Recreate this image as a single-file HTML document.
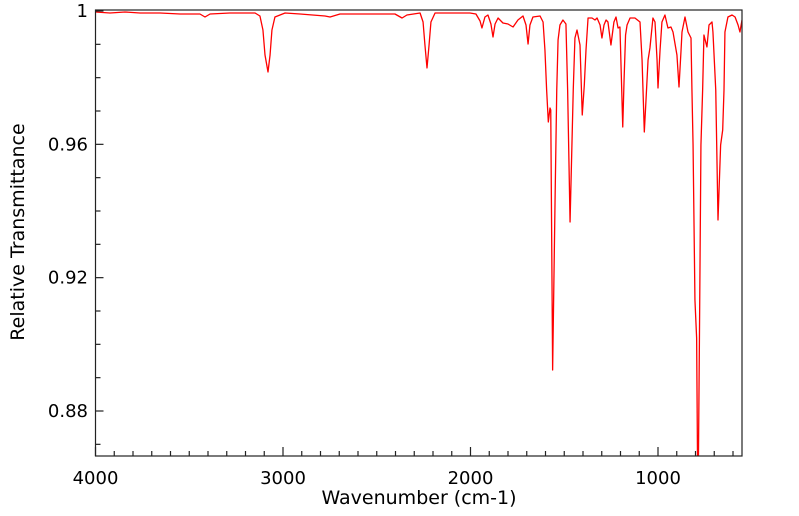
<!DOCTYPE html>
<html><head><meta charset="utf-8"><style>
body{margin:0;background:#fff;}
svg{display:block;font-family:"DejaVu Sans","Liberation Sans",sans-serif;}
</style></head><body>
<svg id="chart" width="799" height="516" viewBox="0 0 799 516"></svg>
<script>
const wavenumbers=[4000,3923,3843,3763,3656,3549,3443,3416,3389,3283,3149,3123,3107,3096,3080,3069,3059,3043,2989,2909,2776,2749,2696,2536,2403,2365,2339,2269,2253,2243,2232,2221,2211,2189,2003,1971,1949,1939,1923,1907,1891,1880,1869,1853,1827,1800,1773,1747,1720,1704,1693,1683,1667,1629,1613,1603,1594,1585,1576,1572,1562,1549,1540,1533,1523,1507,1491,1482,1469,1452,1443,1432,1416,1404,1393,1384,1373,1352,1336,1325,1309,1299,1288,1277,1267,1251,1235,1224,1213,1203,1195,1188,1181,1173,1165,1149,1123,1096,1085,1073,1064,1053,1043,1027,1016,1005,1000,989,979,963,947,931,920,899,888,877,872,856,840,824,819,813,803,794,787,779,771,762,755,739,728,712,707,692,680,666,655,648,643,627,605,589,573,563,552];
const transmittance=[0.9997,0.9994,0.9997,0.9994,0.9994,0.9991,0.9991,0.9982,0.9991,0.9994,0.9994,0.9985,0.9943,0.9868,0.9817,0.9868,0.9943,0.9982,0.9994,0.9991,0.9985,0.9982,0.9991,0.9991,0.9991,0.9979,0.9988,0.9994,0.9967,0.9898,0.9829,0.9898,0.9967,0.9994,0.9994,0.9991,0.997,0.9949,0.9982,0.9988,0.9961,0.9922,0.9961,0.9979,0.9964,0.9961,0.9952,0.9973,0.9985,0.9958,0.9901,0.9958,0.9982,0.9985,0.9967,0.9883,0.9763,0.9667,0.9709,0.9703,0.8923,0.9433,0.9763,0.9913,0.9958,0.9973,0.9961,0.9763,0.9367,0.9763,0.9919,0.9943,0.9898,0.9688,0.9778,0.9883,0.9979,0.9979,0.9973,0.9979,0.9958,0.9919,0.9958,0.9973,0.9967,0.9898,0.9967,0.9982,0.9949,0.9952,0.9793,0.9652,0.9793,0.9928,0.9958,0.9979,0.9979,0.9967,0.9853,0.9637,0.9733,0.9853,0.9889,0.9979,0.9967,0.9853,0.9769,0.9883,0.9967,0.9988,0.9949,0.9952,0.9937,0.9868,0.9772,0.9883,0.9937,0.9982,0.9937,0.9919,0.9763,0.9598,0.9133,0.9019,0.8473,0.9019,0.9598,0.9763,0.9928,0.9892,0.9958,0.9967,0.9937,0.9763,0.9373,0.9598,0.9643,0.9763,0.9937,0.9982,0.9988,0.9982,0.9958,0.9937,0.9973];
const xTickLabels=[4000,3000,2000,1000];
const yTickLabels=[1,0.96,0.92,0.88];

const L=95.5,R=742,T=10,B=456;
const xMax=4000,xMin=552,yMax=1.0003,yMin=0.8665;
const xs=v=>L+(xMax-v)/(xMax-xMin)*(R-L);
const ys=v=>T+(yMax-v)/(yMax-yMin)*(B-T);
const NS="http://www.w3.org/2000/svg";
const svg=document.getElementById('chart');
function mk(tag,attrs,parent){const e=document.createElementNS(NS,tag);for(const k in attrs)e.setAttribute(k,attrs[k]);(parent||svg).appendChild(e);return e;}

const defs=mk('defs',{});
const cp=mk('clipPath',{id:'plotclip'},defs);
mk('rect',{x:L,y:T,width:R-L,height:B-T},cp);

let d='';
wavenumbers.forEach((w,i)=>{d+=(i?'L':'M')+xs(w).toFixed(2)+','+ys(transmittance[i]).toFixed(2);});
const line=mk('path',{d:d,fill:'none',stroke:'#ff0000','stroke-width':1.3,'stroke-linejoin':'round','clip-path':'url(#plotclip)'});



const frame=mk('rect',{x:L,y:T,width:R-L,height:B-T,fill:'none',stroke:'#222','stroke-width':1.2});



for(let v=4000;v>=xMin;v-=100){
  const major=v%1000===0;
  const t=mk('line',{x1:xs(v),x2:xs(v),y1:B,y2:B-(major?9:5),stroke:'#222','stroke-width':1.2});
  
  
}
xTickLabels.forEach(v=>{
  const t=mk('text',{x:xs(v),y:484,'text-anchor':'middle','font-size':18,fill:'#000'});
  t.textContent=v;
  
  
});
for(let k=0;k<=13;k++){
  const v=1-k*0.01; if(v<yMin) break;
  const major=k%4===0;
  const t=mk('line',{x1:L,x2:L+(major?8:5),y1:ys(v),y2:ys(v),stroke:'#222','stroke-width':1.2});
  
  
}
yTickLabels.forEach(v=>{
  const t=mk('text',{x:88,y:ys(v)+6,'text-anchor':'end','font-size':18,fill:'#000'});
  t.textContent=v;
  
  
});
const xt=mk('text',{x:419,y:504,'text-anchor':'middle','font-size':19,fill:'#000'});
xt.textContent='Wavenumber (cm-1)';


const yt=mk('text',{x:0,y:0,'text-anchor':'middle','font-size':19,fill:'#000',transform:'translate(24,232) rotate(-90)'});
yt.textContent='Relative Transmittance';


</script>
</body></html>
